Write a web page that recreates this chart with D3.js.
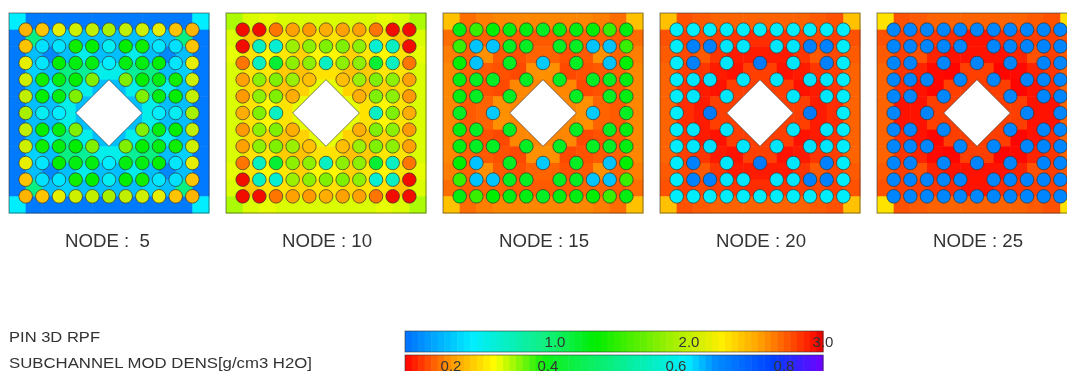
<!DOCTYPE html>
<html>
<head>
<meta charset="utf-8">
<script src="https://cdn.jsdelivr.net/npm/d3@7"></script>
<style>
  html, body { margin: 0; padding: 0; background: #fff; overflow: hidden; }
  svg { filter: blur(0.55px); }
  text { font-family: "Liberation Sans", Arial, sans-serif; fill: #333; white-space: pre; }
</style>
</head>
<body>
<svg id="chart" width="1067" height="371"></svg>
<script>
const nodeLabels = ["NODE :  5", "NODE : 10", "NODE : 15", "NODE : 20", "NODE : 25"];
const titleLines = ["PIN 3D RPF", "SUBCHANNEL MOD DENS[g/cm3 H2O]"];
const pinTicks = [1, 2, 3];
const densTicks = [0.2, 0.4, 0.6, 0.8];
const n = null; // no rod at this height

// rod power per pin, 11 x 11
const pinsNode5 = [
  [2.45, 2.4, 2.15, 2.05, 2.0, 1.9, 2.0, 2.05, 2.15, 2.4, 2.45],
  [2.4, 0.4, 0.42, 1.35, 1.3, 0.5, 1.3, 1.35, 0.42, 0.4, 2.4],
  [2.15, 0.42, 1.3, 1.25, 1.25, 0.45, 1.25, 1.25, 1.3, 0.42, 2.15],
  [2.05, 1.35, 1.25, 1.3, 1.75, n, 1.75, 1.3, 1.25, 1.35, 2.05],
  [2.0, 1.3, 1.25, 1.75, n, n, n, 1.75, 1.25, 1.3, 2.0],
  [1.9, 0.5, 0.45, n, n, n, n, n, 0.45, 0.5, 1.9],
  [2.0, 1.3, 1.25, 1.75, n, n, n, 1.75, 1.25, 1.3, 2.0],
  [2.05, 1.35, 1.25, 1.3, 1.75, n, 1.75, 1.3, 1.25, 1.35, 2.05],
  [2.15, 0.42, 1.3, 1.25, 1.25, 0.45, 1.25, 1.25, 1.3, 0.42, 2.15],
  [2.4, 0.4, 0.42, 1.35, 1.3, 0.5, 1.3, 1.35, 0.42, 0.4, 2.4],
  [2.45, 2.4, 2.15, 2.05, 2.0, 1.9, 2.0, 2.05, 2.15, 2.4, 2.45]
];
const pinsNode10 = [
  [2.95, 2.95, 2.65, 2.52, 2.55, 2.48, 2.52, 2.52, 2.65, 2.95, 2.95],
  [2.95, 0.68, 0.62, 1.85, 1.8, 1.75, 1.75, 1.8, 0.62, 0.68, 2.95],
  [2.65, 0.68, 1.15, 1.8, 1.8, 0.68, 1.8, 1.8, 1.15, 0.68, 2.65],
  [2.52, 1.8, 1.75, 1.85, 2.42, n, 2.42, 1.85, 1.75, 1.8, 2.52],
  [2.55, 1.8, 1.75, 2.48, n, n, n, 2.48, 1.75, 1.8, 2.55],
  [2.48, 1.75, 0.68, n, n, n, n, n, 0.68, 1.75, 2.48],
  [2.55, 1.8, 1.75, 2.48, n, n, n, 2.48, 1.75, 1.8, 2.55],
  [2.52, 1.8, 1.75, 1.85, 2.42, n, 2.42, 1.85, 1.75, 1.8, 2.52],
  [2.65, 0.68, 1.15, 1.8, 1.8, 0.68, 1.8, 1.8, 1.15, 0.68, 2.65],
  [2.95, 0.68, 0.62, 1.85, 1.8, 1.75, 1.75, 1.8, 0.62, 0.68, 2.95],
  [2.95, 2.95, 2.65, 2.52, 2.55, 2.48, 2.52, 2.52, 2.65, 2.95, 2.95]
];
const pinsNode15 = [
  [1.25, 1.5, 1.3, 1.25, 1.25, 1.2, 1.25, 1.25, 1.3, 1.5, 1.25],
  [1.5, 0.3, 0.3, 1.2, 1.2, n, 1.2, 1.2, 0.3, 0.3, 1.5],
  [1.3, 0.3, n, 1.2, n, 0.32, n, 1.2, n, 0.3, 1.3],
  [1.25, 1.2, 1.2, n, 1.2, n, 1.2, n, 1.2, 1.2, 1.25],
  [1.25, 1.2, n, 1.2, n, n, n, 1.2, n, 1.2, 1.25],
  [1.2, n, 0.32, n, n, n, n, n, 0.32, n, 1.2],
  [1.25, 1.2, n, 1.2, n, n, n, 1.2, n, 1.2, 1.25],
  [1.25, 1.2, 1.2, n, 1.2, n, 1.2, n, 1.2, 1.2, 1.25],
  [1.3, 0.3, n, 1.2, n, 0.32, n, 1.2, n, 0.3, 1.3],
  [1.5, 0.3, 0.3, 1.2, 1.2, n, 1.2, 1.2, 0.3, 0.3, 1.5],
  [1.25, 1.5, 1.3, 1.25, 1.25, 1.2, 1.25, 1.25, 1.3, 1.5, 1.25]
];
const pinsNode20 = [
  [0.46, 0.46, 0.46, 0.46, 0.46, 0.46, 0.46, 0.46, 0.46, 0.46, 0.46],
  [0.46, 0.06, 0.06, 0.42, 0.42, n, 0.42, 0.42, 0.06, 0.06, 0.46],
  [0.46, 0.06, n, 0.42, n, 0.04, n, 0.42, n, 0.06, 0.46],
  [0.46, 0.42, 0.4, n, 0.42, n, 0.42, n, 0.4, 0.42, 0.46],
  [0.46, 0.42, n, 0.42, n, n, n, 0.42, n, 0.42, 0.46],
  [0.46, n, 0.04, n, n, n, n, n, 0.04, n, 0.46],
  [0.46, 0.42, n, 0.42, n, n, n, 0.42, n, 0.42, 0.46],
  [0.46, 0.42, 0.4, n, 0.42, n, 0.42, n, 0.4, 0.42, 0.46],
  [0.46, 0.06, n, 0.42, n, 0.04, n, 0.42, n, 0.06, 0.46],
  [0.46, 0.06, 0.06, 0.42, 0.42, n, 0.42, 0.42, 0.06, 0.06, 0.46],
  [0.46, 0.46, 0.46, 0.46, 0.46, 0.46, 0.46, 0.46, 0.46, 0.46, 0.46]
];
const pinsNode25 = [
  [0.08, 0.08, 0.08, 0.08, 0.08, 0.08, 0.08, 0.08, 0.08, 0.08, 0.08],
  [0.08, 0.07, 0.07, 0.08, 0.08, n, 0.08, 0.08, 0.07, 0.07, 0.08],
  [0.08, 0.07, n, 0.08, n, 0.07, n, 0.08, n, 0.07, 0.08],
  [0.08, 0.08, 0.08, n, 0.08, n, 0.08, n, 0.08, 0.08, 0.08],
  [0.08, 0.08, n, 0.08, n, n, n, 0.08, n, 0.08, 0.08],
  [0.08, n, 0.07, n, n, n, n, n, 0.07, n, 0.08],
  [0.08, 0.08, n, 0.08, n, n, n, 0.08, n, 0.08, 0.08],
  [0.08, 0.08, 0.08, n, 0.08, n, 0.08, n, 0.08, 0.08, 0.08],
  [0.08, 0.07, n, 0.08, n, 0.07, n, 0.08, n, 0.07, 0.08],
  [0.08, 0.07, 0.07, 0.08, 0.08, n, 0.08, 0.08, 0.07, 0.07, 0.08],
  [0.08, 0.08, 0.08, 0.08, 0.08, 0.08, 0.08, 0.08, 0.08, 0.08, 0.08]
];

// moderator density per subchannel, 12 x 12
const densNode5 = [
  [.62, .70, .70, .70, .70, .70, .70, .70, .70, .70, .70, .62],
  [.70, .50, .645, .635, .645, .645, .645, .645, .635, .645, .50, .70],
  [.70, .645, .68, .645, .60, .645, .645, .60, .645, .68, .645, .70],
  [.70, .635, .645, .50, .52, .60, .60, .52, .50, .645, .635, .70],
  [.70, .645, .60, .52, .60, .645, .645, .60, .52, .60, .645, .70],
  [.70, .645, .645, .60, .645, .66, .66, .645, .60, .645, .645, .70],
  [.70, .645, .645, .60, .645, .66, .66, .645, .60, .645, .645, .70],
  [.70, .645, .60, .52, .60, .645, .645, .60, .52, .60, .645, .70],
  [.70, .635, .645, .50, .52, .60, .60, .52, .50, .645, .635, .70],
  [.70, .645, .68, .645, .60, .645, .645, .60, .645, .68, .645, .70],
  [.70, .50, .645, .635, .645, .645, .645, .645, .635, .645, .50, .70],
  [.62, .70, .70, .70, .70, .70, .70, .70, .70, .70, .70, .62]
];
const densNode10 = [
  [.325, .305, .30, .305, .305, .305, .305, .305, .305, .30, .305, .325],
  [.305, .24, .265, .265, .255, .265, .265, .255, .265, .265, .24, .305],
  [.30, .265, .285, .27, .25, .285, .285, .25, .27, .285, .265, .30],
  [.305, .265, .27, .245, .235, .265, .265, .235, .245, .27, .265, .305],
  [.305, .255, .25, .235, .25, .30, .30, .25, .235, .25, .255, .305],
  [.305, .265, .285, .265, .30, .32, .32, .30, .265, .285, .265, .305],
  [.305, .265, .285, .265, .30, .32, .32, .30, .265, .285, .265, .305],
  [.305, .255, .25, .235, .25, .30, .30, .25, .235, .25, .255, .305],
  [.305, .265, .27, .245, .235, .265, .265, .235, .245, .27, .265, .305],
  [.30, .265, .285, .27, .25, .285, .285, .25, .27, .285, .265, .30],
  [.305, .24, .265, .265, .255, .265, .265, .255, .265, .265, .24, .305],
  [.325, .305, .30, .305, .305, .305, .305, .305, .305, .30, .305, .325]
];
const densNode15 = [
  [.235, .175, .185, .19, .19, .19, .19, .19, .19, .185, .175, .235],
  [.175, .165, .17, .17, .165, .165, .165, .165, .17, .17, .165, .175],
  [.185, .17, .195, .165, .16, .17, .17, .16, .165, .195, .17, .185],
  [.19, .17, .165, .16, .155, .195, .195, .155, .16, .165, .17, .19],
  [.19, .165, .16, .155, .19, .19, .19, .19, .155, .16, .165, .19],
  [.19, .165, .17, .195, .19, .19, .19, .19, .195, .17, .165, .19],
  [.19, .165, .17, .195, .19, .19, .19, .19, .195, .17, .165, .19],
  [.19, .165, .16, .155, .19, .19, .19, .19, .155, .16, .165, .19],
  [.19, .17, .165, .16, .155, .195, .195, .155, .16, .165, .17, .19],
  [.185, .17, .195, .165, .16, .17, .17, .16, .165, .195, .17, .185],
  [.175, .165, .17, .17, .165, .165, .165, .165, .17, .17, .165, .175],
  [.235, .175, .185, .19, .19, .19, .19, .19, .19, .185, .175, .235]
];
const densNode20 = [
  [.235, .16, .165, .17, .17, .17, .17, .17, .17, .165, .16, .235],
  [.16, .15, .155, .15, .145, .14, .14, .145, .15, .155, .15, .16],
  [.165, .155, .165, .145, .13, .13, .13, .13, .145, .165, .155, .165],
  [.17, .15, .145, .13, .125, .15, .15, .125, .13, .145, .15, .17],
  [.17, .145, .13, .125, .15, .15, .15, .15, .125, .13, .145, .17],
  [.17, .14, .13, .15, .15, .15, .15, .15, .15, .13, .14, .17],
  [.17, .14, .13, .15, .15, .15, .15, .15, .15, .13, .14, .17],
  [.17, .145, .13, .125, .15, .15, .15, .15, .125, .13, .145, .17],
  [.17, .15, .145, .13, .125, .15, .15, .125, .13, .145, .15, .17],
  [.165, .155, .165, .145, .13, .13, .13, .13, .145, .165, .155, .165],
  [.16, .15, .155, .15, .145, .14, .14, .145, .15, .155, .15, .16],
  [.235, .16, .165, .17, .17, .17, .17, .17, .17, .165, .16, .235]
];
const densNode25 = [
  [.265, .16, .165, .17, .17, .17, .17, .17, .17, .165, .16, .265],
  [.16, .15, .15, .145, .14, .125, .125, .14, .145, .15, .15, .16],
  [.165, .15, .16, .135, .125, .125, .125, .125, .135, .16, .15, .165],
  [.17, .145, .135, .12, .118, .15, .15, .118, .12, .135, .145, .17],
  [.17, .14, .125, .118, .15, .15, .15, .15, .118, .125, .14, .17],
  [.17, .125, .125, .15, .15, .15, .15, .15, .15, .125, .125, .17],
  [.17, .125, .125, .15, .15, .15, .15, .15, .15, .125, .125, .17],
  [.17, .14, .125, .118, .15, .15, .15, .15, .118, .125, .14, .17],
  [.17, .145, .135, .12, .118, .15, .15, .118, .12, .135, .145, .17],
  [.165, .15, .16, .135, .125, .125, .125, .125, .135, .16, .15, .165],
  [.16, .15, .15, .145, .14, .125, .125, .14, .145, .15, .15, .16],
  [.265, .16, .165, .17, .17, .17, .17, .17, .17, .165, .16, .265]
];

const pinSets = [pinsNode5, pinsNode10, pinsNode15, pinsNode20, pinsNode25];
const densSets = [densNode5, densNode10, densNode15, densNode20, densNode25];

const pinColor = d3.scaleLinear()
  .domain([0, 0.45, 0.93, 1.3, 1.87, 2.25, 2.55, 2.92, 3])
  .range(["#0070ff", "#00eeff", "#10f080", "#00ee00", "#a0f000", "#ffee00", "#ff9900", "#ff1500", "#e00000"]);

const densColor = d3.scaleLinear()
  .domain([0.115, 0.2, 0.29, 0.39, 0.62, 0.67, 0.78, 0.87])
  .range(["#ff0000", "#ff9900", "#ffff00", "#10f010", "#00eeff", "#0090ff", "#0040ff", "#7000ff"]);

const svg = d3.select("#chart");
const panelSize = 200;
const panelX = d3.scaleLinear().domain([0, 4]).range([9, 877]);
const panelY = 13;

const cell = d3.scaleBand().domain(d3.range(12)).range([0, panelSize]);
const pinPos = d3.scaleLinear().domain([-1, 11]).range([0, panelSize]);

function drawPanel(i) {
  const g = svg.append("g").attr("transform", `translate(${panelX(i)},${panelY})`);

  g.append("g")
    .selectAll("g")
    .data(densSets[i])
    .join("g")
    .attr("transform", (d, r) => `translate(0,${cell(r)})`)
    .selectAll("rect")
    .data((d) => d)
    .join("rect")
    .attr("x", (d, c) => cell(c))
    .attr("width", cell.bandwidth() + 0.5)
    .attr("height", cell.bandwidth() + 0.5)
    .attr("fill", (d) => densColor(d));

  g.append("rect")
    .attr("width", panelSize)
    .attr("height", panelSize)
    .attr("fill", "none")
    .attr("stroke", "#333")
    .attr("stroke-opacity", 0.6);

  const pins = pinSets[i].flatMap((row, r) => row.map((v, c) => ({ r, c, v })));
  g.append("g")
    .selectAll("circle")
    .data(pins.filter((d) => d.v !== null))
    .join("circle")
    .attr("cx", (d) => pinPos(d.c))
    .attr("cy", (d) => pinPos(d.r))
    .attr("r", 6.8)
    .attr("fill", (d) => pinColor(d.v))
    .attr("stroke", "#333")
    .attr("stroke-opacity", 0.7)
    .attr("stroke-width", 1);

  // water hole in the middle, 2 pin pitches each way
  const hole = [[3, 5], [5, 3], [7, 5], [5, 7]];
  g.append("polygon")
    .attr("points", hole.map((p) => `${pinPos(p[0])},${pinPos(p[1])}`).join(" "))
    .attr("fill", "#fff")
    .attr("stroke", "#333")
    .attr("stroke-opacity", 0.6);

  g.append("text")
    .attr("x", 56)
    .attr("y", 234)
    .attr("font-size", 17.5)
    .attr("textLength", i === 0 ? 85 : 90)
    .attr("lengthAdjust", "spacingAndGlyphs")
    .text(nodeLabels[i]);
}

d3.range(5).forEach(drawPanel);

svg.selectAll(".title")
  .data(titleLines)
  .join("text")
  .attr("class", "title")
  .attr("x", 9)
  .attr("y", (d, i) => 342 + i * 26)
  .attr("font-size", 15.5)
  .attr("textLength", (d, i) => (i === 0 ? 91 : 303))
  .attr("lengthAdjust", "spacingAndGlyphs")
  .text((d) => d);

function drawBar(y, h, scale, color, ticks, fmt) {
  const [x0, x1] = d3.extent(scale.range());
  const bandCount = 64;
  const bands = d3.range(bandCount);
  const bandX = d3.scaleBand().domain(bands).range([x0, x1]);
  const g = svg.append("g");

  g.selectAll("rect")
    .data(bands)
    .join("rect")
    .attr("x", (d) => bandX(d))
    .attr("y", y)
    .attr("width", bandX.bandwidth() + 0.5)
    .attr("height", h)
    .attr("fill", (d) => color(scale.invert(bandX(d) + bandX.bandwidth() / 2)));

  g.append("rect")
    .attr("x", x0)
    .attr("y", y)
    .attr("width", x1 - x0)
    .attr("height", h)
    .attr("fill", "none")
    .attr("stroke", "#333")
    .attr("stroke-opacity", 0.6);

  g.selectAll("text")
    .data(ticks)
    .join("text")
    .attr("x", (d) => scale(d))
    .attr("y", y + 16)
    .attr("text-anchor", "middle")
    .attr("font-size", 15)
    .text(fmt);
}

const pinAxis = d3.scaleLinear().domain([0, 1, 2, 3]).range([405, 555, 689, 823]);
const densAxis = d3.scaleLinear().domain([0.115, 0.2, 0.4, 0.6, 0.8, 0.87]).range([405, 451, 548, 676, 784, 823]);

drawBar(331, 21, pinAxis, pinColor, pinTicks, d3.format(".1f"));
drawBar(355, 22, densAxis, densColor, densTicks, d3.format(".1f"));
</script>
</body>
</html>
